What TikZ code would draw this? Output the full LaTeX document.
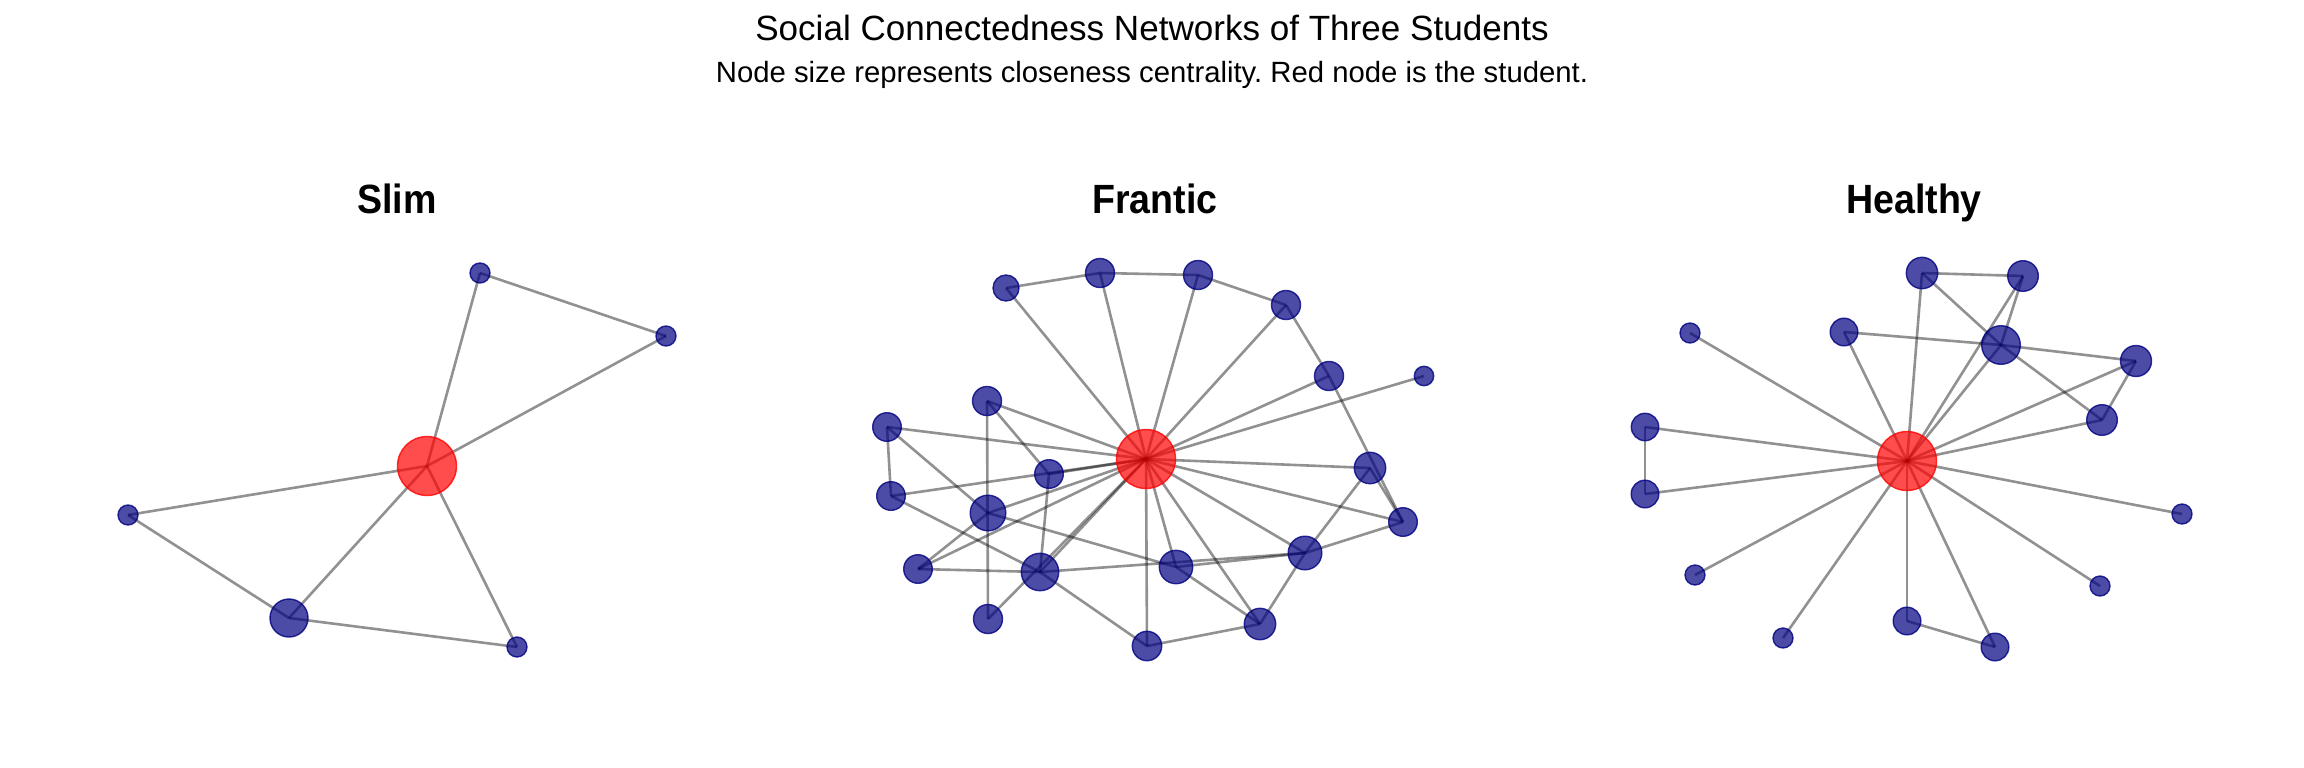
\documentclass[tikz,border=0pt]{standalone}
\usepackage{fontspec}
\setmainfont{Liberation Sans}
\newfontfamily\panelfont[FakeStretch=0.92]{Liberation Sans}
\usetikzlibrary{backgrounds}
\definecolor{peerblue}{RGB}{0,0,128}
\definecolor{stured}{RGB}{255,0,0}
\frenchspacing

\begin{document}
\begin{tikzpicture}[x=0.5bp,y=-0.5bp,
        stu/.style={circle,inner sep=0pt,minimum size=29.5bp,fill=stured,fill opacity=0.7,
                    draw=stured,draw opacity=0.8,line width=0.7bp},
        peer/.style={circle,inner sep=0pt,minimum size=#1bp,fill=peerblue,fill opacity=0.7,
                     draw=peerblue,draw opacity=0.8,line width=0.7bp},
        link/.style={draw=black,draw opacity=0.43,line width=1.3bp},
        ttl/.style={anchor=base,font=\panelfont\bfseries\fontsize{20.5}{24}\selectfont}]
    \useasboundingbox (0,0) rectangle (2304,768);
    \node[anchor=base,font=\fontsize{17.6}{21}\selectfont] (title) at (1152,40) {Social Connectedness Networks of Three Students};
    \node[anchor=base,font=\fontsize{14.7}{18}\selectfont] (sub) at (1152,82) {Node size represents closeness centrality. Red node is the student.};
    % Slim
    \node[ttl] (tslim) at (397,213) {Slim};
    \node[stu] (s0) at (427,466) {};
    \node[peer=10] (s1) at (480,273) {};
    \node[peer=10] (s2) at (666,336) {};
    \node[peer=10] (s3) at (128,515) {};
    \node[peer=19] (s4) at (289,618) {};
    \node[peer=10] (s5) at (517,647) {};
    % Frantic
    \node[ttl] (tfrantic) at (1155,213) {Frantic};
    \node[stu] (f0) at (1146,459) {};
    \node[peer=13] (f1) at (1006,288) {};
    \node[peer=14.5] (f2) at (1100,273) {};
    \node[peer=14.5] (f3) at (1198,275) {};
    \node[peer=14.5] (f4) at (1286,305) {};
    \node[peer=14.5] (f5) at (1329,376) {};
    \node[peer=9.7] (f6) at (1424,376) {};
    \node[peer=14.5] (f7) at (987,401) {};
    \node[peer=14.3] (f8) at (887,427) {};
    \node[peer=14.3] (f9) at (1049,474) {};
    \node[peer=14.3] (f10) at (891,496) {};
    \node[peer=17.8] (f11) at (988,513) {};
    \node[peer=15.7] (f12) at (1370,468) {};
    \node[peer=14.3] (f13) at (1403,522) {};
    \node[peer=16.8] (f14) at (1305,553) {};
    \node[peer=16.7] (f15) at (1176,567) {};
    \node[peer=18.7] (f16) at (1040,572) {};
    \node[peer=14.3] (f17) at (918,569) {};
    \node[peer=14.5] (f18) at (988,619) {};
    \node[peer=14.7] (f19) at (1147,646) {};
    \node[peer=15.7] (f20) at (1260,624) {};
    % Healthy
    \node[ttl] (thealthy) at (1914,213) {Healthy};
    \node[stu] (h0) at (1907,461) {};
    \node[peer=15.7] (h1) at (1922,273) {};
    \node[peer=15.3] (h2) at (2023,276) {};
    \node[peer=13.8] (h3) at (1844,332) {};
    \node[peer=10] (h4) at (1690,333) {};
    \node[peer=19.3] (h5) at (2001,345) {};
    \node[peer=15.5] (h6) at (2136,361) {};
    \node[peer=15.3] (h7) at (2102,420) {};
    \node[peer=13.7] (h8) at (1645,427) {};
    \node[peer=13.8] (h9) at (1645,494) {};
    \node[peer=10] (h10) at (2182,514) {};
    \node[peer=10] (h11) at (1695,575) {};
    \node[peer=10] (h12) at (2100,586) {};
    \node[peer=10] (h13) at (1783,638) {};
    \node[peer=13.8] (h14) at (1907,621) {};
    \node[peer=13.8] (h15) at (1995,647) {};
    \begin{scope}[on background layer]
        \draw[link] (s1.center) -- (s2.center); \draw[link] (s1.center) -- (s0.center); \draw[link] (s2.center) -- (s0.center);
        \draw[link] (s3.center) -- (s0.center); \draw[link] (s3.center) -- (s4.center); \draw[link] (s4.center) -- (s0.center);
        \draw[link] (s4.center) -- (s5.center); \draw[link] (s5.center) -- (s0.center);
        % spokes of the frantic student
        \draw[link] (f0.center) -- (f1.center); \draw[link] (f0.center) -- (f2.center); \draw[link] (f0.center) -- (f3.center);
        \draw[link] (f0.center) -- (f4.center); \draw[link] (f0.center) -- (f5.center); \draw[link] (f0.center) -- (f6.center);
        \draw[link] (f0.center) -- (f7.center); \draw[link] (f0.center) -- (f8.center); \draw[link] (f0.center) -- (f9.center);
        \draw[link] (f0.center) -- (f10.center); \draw[link] (f0.center) -- (f11.center); \draw[link] (f0.center) -- (f12.center);
        \draw[link] (f0.center) -- (f13.center); \draw[link] (f0.center) -- (f14.center); \draw[link] (f0.center) -- (f15.center);
        \draw[link] (f0.center) -- (f16.center); \draw[link] (f0.center) -- (f17.center); \draw[link] (f0.center) -- (f18.center);
        \draw[link] (f0.center) -- (f19.center); \draw[link] (f0.center) -- (f20.center);
        \draw[link] (f1.center) -- (f2.center); \draw[link] (f2.center) -- (f3.center); \draw[link] (f3.center) -- (f4.center);
        \draw[link] (f4.center) -- (f5.center); \draw[link] (f5.center) -- (f13.center); \draw[link] (f12.center) -- (f13.center);
        \draw[link] (f13.center) -- (f14.center); \draw[link] (f14.center) -- (f12.center); \draw[link] (f14.center) -- (f20.center);
        \draw[link] (f20.center) -- (f19.center); \draw[link] (f19.center) -- (f16.center); \draw[link] (f15.center) -- (f20.center);
        \draw[link] (f15.center) -- (f14.center); \draw[link] (f16.center) -- (f14.center); \draw[link] (f16.center) -- (f17.center);
        \draw[link] (f11.center) -- (f15.center); \draw[link] (f11.center) -- (f17.center); \draw[link] (f10.center) -- (f16.center);
        \draw[link] (f10.center) -- (f8.center); \draw[link] (f8.center) -- (f11.center); \draw[link] (f7.center) -- (f18.center);
        \draw[link] (f7.center) -- (f9.center); \draw[link] (f9.center) -- (f16.center);
        % spokes of the healthy student
        \draw[link] (h0.center) -- (h1.center); \draw[link] (h0.center) -- (h2.center); \draw[link] (h0.center) -- (h3.center);
        \draw[link] (h0.center) -- (h4.center); \draw[link] (h0.center) -- (h5.center); \draw[link] (h0.center) -- (h6.center);
        \draw[link] (h0.center) -- (h7.center); \draw[link] (h0.center) -- (h8.center); \draw[link] (h0.center) -- (h9.center);
        \draw[link] (h0.center) -- (h10.center); \draw[link] (h0.center) -- (h11.center); \draw[link] (h0.center) -- (h12.center);
        \draw[link] (h0.center) -- (h13.center); \draw[link] (h0.center) -- (h14.center); \draw[link] (h0.center) -- (h15.center);
        \draw[link] (h1.center) -- (h2.center); \draw[link] (h1.center) -- (h5.center); \draw[link] (h5.center) -- (h7.center);
        \draw[link] (h2.center) -- (h5.center); \draw[link] (h3.center) -- (h5.center); \draw[link] (h5.center) -- (h6.center);
        \draw[link] (h6.center) -- (h7.center); \draw[link] (h8.center) -- (h9.center); \draw[link] (h14.center) -- (h15.center);
    \end{scope}
\end{tikzpicture}
\end{document}
